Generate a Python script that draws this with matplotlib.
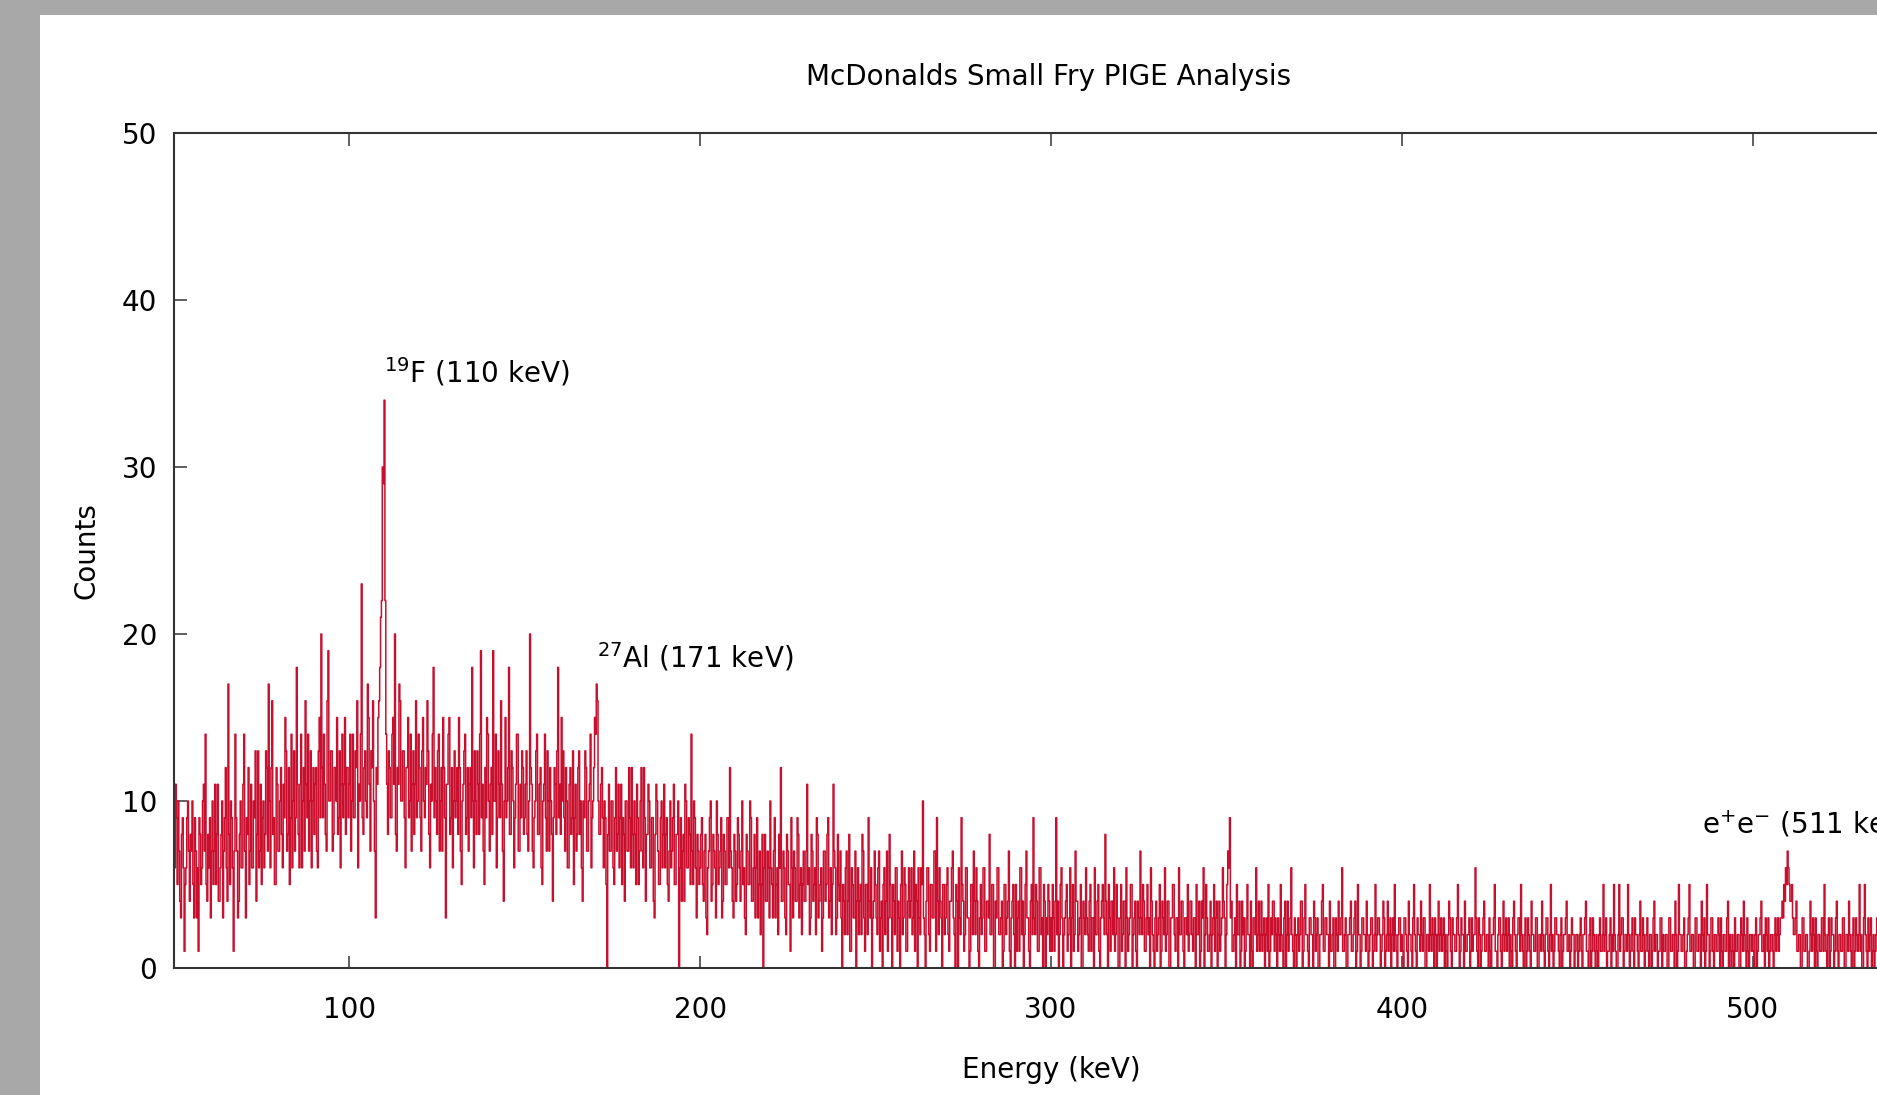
"""
PIGE gamma spectrum of a small fry sample, gnuplot-like look
"""
import numpy as np
import matplotlib
matplotlib.use("Agg")
from matplotlib import pyplot as plt
from matplotlib.patches import Rectangle

# counts per 0.25 keV channel,
# one string per 50 keV, one line per 10 keV
counts_050 = """
8 6 11 9 5 10 7 4 3 8 9 6 1 5 6 9 10 7 4 8 7 10 5 3 9 7 3 6 1 9 8 5 6 10 11 7 14 5 4 8
6 9 3 7 10 5 7 11 5 8 11 4 4 6 8 10 3 7 9 12 6 4 17 8 5 10 9 6 1 7 14 9 7 3 4 8 10 6 6 11
14 7 3 9 8 12 5 7 11 6 6 10 9 13 4 8 13 6 7 11 5 9 10 6 8 13 12 7 17 10 6 12 16 8 9 5 5 12 11 7
7 10 12 8 6 11 9 15 13 7 8 12 5 9 14 6 10 13 7 9 18 11 8 6 11 14 6 10 12 7 16 11 9 14 7 10 13 6 10 12
8 11 12 7 6 13 15 9 20 12 9 14 11 8 7 16 19 10 10 13 13 7 8 12 12 10 15 8 9 13 6 11 14 9 11 15 8 12 12 9
"""
counts_100 = """
11 14 7 10 14 9 9 13 12 16 6 11 10 14 23 9 8 12 13 10 9 17 15 11 7 13 12 16 10 7 3 12 11 15 16 18 21 22 30 29
34 22 14 11 8 13 12 9 9 14 15 11 20 8 7 12 11 17 16 10 10 13 13 9 6 12 12 15 9 10 14 7 11 13 8 11 16 9 10 14
12 9 7 13 15 10 9 12 11 16 13 8 6 11 10 14 18 9 12 10 8 13 14 7 10 12 7 15 12 9 3 11 11 14 15 8 9 12 6 10
13 9 10 12 8 15 12 7 5 10 11 13 14 8 9 12 7 11 12 9 18 10 6 13 10 8 13 11 8 14 19 9 11 7 5 12 9 15 14 10
7 11 12 8 19 10 10 14 6 9 13 11 9 16 11 7 4 10 15 9 10 12 18 8 8 13 12 10 6 9 11 14 14 7 7 11 9 13 12 8
"""
counts_150 = """
9 11 13 8 7 10 20 12 11 7 6 9 10 13 14 8 8 11 12 6 5 10 11 14 9 7 13 10 7 12 10 8 4 9 12 11 8 13 18 9
11 8 15 10 13 9 7 12 10 6 6 11 12 8 9 13 5 9 11 7 8 12 13 8 10 6 4 10 9 13 12 7 7 10 11 14 6 9 10 12
15 14 17 16 10 8 8 11 12 9 6 10 9 5 0 8 11 7 7 10 10 6 5 9 12 7 8 11 6 9 11 5 9 8 4 10 10 7 7 12
9 6 12 8 6 10 8 5 11 9 5 7 10 12 7 6 12 9 4 8 8 11 10 6 6 9 9 4 3 8 11 10 7 5 5 9 10 6 8 11
6 8 9 5 4 7 10 6 7 9 11 5 5 8 8 10 0 6 9 4 7 8 4 11 10 6 6 9 8 5 14 7 5 10 9 6 3 8 7 5
"""
counts_200 = """
6 8 9 5 4 7 8 3 2 6 7 9 10 4 5 8 7 6 3 10 8 5 6 7 9 3 4 8 7 5 5 9 9 6 12 7 6 4 3 8
7 4 5 9 8 6 4 7 10 5 6 3 2 8 7 5 5 10 9 4 4 6 8 3 6 9 3 5 7 2 5 8 0 6 8 4 4 7 6 3
10 6 5 3 7 9 3 5 6 2 8 6 12 4 4 7 6 3 2 8 7 5 5 1 9 6 3 7 6 4 4 9 8 3 5 6 2 5 7 4
4 7 11 5 6 2 3 8 7 4 5 6 2 9 8 3 4 5 6 1 3 7 7 4 5 8 9 3 4 6 2 5 11 7 6 2 3 8 5 4
7 3 0 5 4 2 6 7 2 4 8 1 1 6 5 3 3 7 0 4 6 2 4 5 2 8 7 3 1 5 5 2 9 4 3 6 0 3 4 7
"""
counts_250 = """
5 3 2 6 7 1 3 4 0 5 6 2 4 7 1 3 8 5 3 0 5 4 2 6 6 1 4 3 0 5 7 2 3 6 5 1 1 4 6 3
4 6 2 3 7 1 5 4 0 6 3 2 6 5 10 3 2 0 4 6 6 2 1 5 5 3 3 7 7 1 9 4 2 6 4 3 0 5 5 2
3 5 6 2 1 4 4 6 7 3 2 0 5 4 0 6 3 2 9 5 4 1 2 6 6 3 3 0 1 5 5 2 7 4 2 6 4 1 0 3
5 2 3 6 6 1 1 4 4 3 8 2 2 5 5 0 0 4 3 6 6 2 2 3 4 0 1 5 5 2 3 4 7 1 0 3 4 5 2 0
5 1 3 4 1 6 6 2 4 0 2 5 7 3 3 1 0 4 5 2 9 3 2 5 4 1 1 6 6 2 3 0 5 4 0 3 2 5 4 1
"""
counts_300 = """
3 1 5 3 1 4 9 2 4 0 2 5 6 3 0 2 3 4 5 1 2 3 6 0 3 5 1 2 7 4 4 1 2 3 5 0 0 4 3 2
6 3 2 1 4 5 1 3 3 0 6 2 2 4 5 1 0 3 4 5 3 2 8 4 2 0 5 3 1 4 4 2 6 1 2 5 3 0 0 3
5 1 2 4 4 0 6 3 1 2 3 5 5 0 2 3 4 1 0 4 3 2 7 3 2 5 4 1 1 3 5 2 3 0 6 4 2 1 0 3
4 1 2 3 5 0 1 4 3 2 6 1 2 4 4 0 0 3 3 5 5 2 1 3 3 0 6 2 2 4 4 1 0 3 3 2 5 1 2 4
4 2 1 3 3 0 5 2 2 4 0 1 4 3 6 0 2 5 3 1 1 2 4 0 2 3 5 1 3 4 0 2 4 1 2 3 6 4 3 0
"""
counts_350 = """
2 5 7 6 9 3 4 1 1 2 3 0 5 2 2 4 0 1 4 2 3 0 1 3 5 2 2 0 4 1 0 3 3 2 6 1 2 4 1 2
4 1 2 3 0 2 3 1 5 0 1 3 2 4 4 1 3 2 0 3 2 1 5 2 1 0 3 4 0 2 4 1 2 3 6 2 1 0 3 2
0 2 3 1 2 4 4 0 1 3 5 2 2 1 0 3 3 2 2 0 4 3 1 2 3 0 0 2 2 4 5 1 1 3 3 2 2 0 4 1
1 2 3 0 0 3 2 1 4 2 2 3 6 1 1 2 3 0 0 2 2 3 4 1 1 2 3 4 0 1 5 2 2 0 1 3 3 2 2 1
4 2 0 1 2 3 3 0 1 2 5 1 2 3 3 2 0 1 2 4 3 0 1 2 4 1 2 3 0 2 3 1 5 2 1 0 2 3 3 1
"""
counts_400 = """
2 1 0 3 3 2 1 0 4 2 2 1 0 3 5 2 1 0 3 2 2 1 4 2 1 3 3 0 0 2 2 1 5 2 1 3 2 0 3 2
0 2 4 1 2 3 1 2 3 0 2 1 0 2 4 3 1 0 3 2 2 1 1 3 5 2 0 1 3 2 2 0 4 1 1 2 2 3 0 1
3 1 2 2 6 3 1 0 3 2 0 1 2 3 4 1 1 2 2 0 3 1 0 2 2 3 5 1 1 0 2 3 3 1 0 2 4 1 2 3
1 2 3 0 2 1 0 3 4 2 1 0 2 3 3 1 5 2 1 0 2 3 0 1 3 2 1 0 4 2 2 1 1 3 3 0 0 2 2 1
4 2 1 0 2 3 3 1 0 2 5 1 2 0 1 3 3 2 2 1 0 2 3 0 1 2 2 3 4 1 1 2 0 1 3 2 2 0 1 2
"""
counts_450 = """
2 0 1 2 3 1 0 2 2 3 4 1 1 0 2 3 0 1 3 2 1 0 2 1 0 2 3 1 1 2 5 1 2 3 0 1 1 2 3 0
2 1 5 2 1 0 0 2 5 1 2 3 3 0 1 2 2 1 5 2 0 1 2 3 1 0 3 2 2 1 0 2 4 1 1 3 2 0 1 2
3 1 0 2 2 0 1 3 4 1 2 2 0 1 1 3 3 0 2 1 1 2 2 0 0 3 3 1 1 2 2 0 4 2 0 1 5 2 2 1
1 2 3 0 0 1 2 3 5 1 1 2 2 0 0 3 3 1 1 2 2 0 4 2 1 3 0 1 5 2 2 0 1 3 3 1 0 2 2 1
1 3 2 0 3 1 0 2 2 1 1 3 4 0 2 1 0 2 1 0 3 1 1 2 2 0 0 3 2 1 4 2 1 0 3 1 0 2 2 1
"""
counts_500 = """
2 1 0 2 3 0 1 2 2 3 4 1 1 2 0 3 2 1 3 0 1 2 2 1 0 2 3 1 2 3 1 2 3 3 4 3 5 4 6 5
7 6 5 4 4 5 3 2 2 3 4 1 1 2 2 0 0 3 3 1 1 2 2 0 0 1 4 2 1 3 2 0 3 1 0 2 2 1 1 3
3 1 5 2 1 0 2 3 0 1 3 2 2 0 1 3 4 1 0 2 2 1 1 3 3 0 0 2 2 1 4 2 1 0 2 3 0 1 3 2
1 2 5 1 2 0 0 3 5 2 1 0 3 1 2 3 0 1 2 0 1 2 3 1 0 2 2 3 4 1 1 0 2 3 0 1 3 2 1 0
2 1 0 3 3 2 1 0 2 1 4 2 0 1 2 3 1 0 3 2 0 1 2 3 1 2 3 0 1 2 0 1 2 3 4 1 1 2 2 0
"""

segments = [counts_050, counts_100, counts_150, counts_200, counts_250,
            counts_300, counts_350, counts_400, counts_450, counts_500]

peak_labels = [r"$^{19}$F (110 keV)", r"$^{27}$Al (171 keV)",
               r"e$^{+}$e$^{-}$ (511 keV)"]
peak_label_x = [109.8, 170.6, 485.7]
peak_label_y = [35.7, 18.6, 8.6]


def load_counts():
    """
    Joins the channel strings into one counts array
    """
    counts = []
    for seg in segments:
        counts += [int(v) for v in seg.split()]
    counts = np.array(counts)
    energy = 50.0 + 0.25 * np.arange(len(counts))
    return energy, counts


def main():
    energy, counts = load_counts()
    plt.rcParams['font.family'] = ['DejaVu Sans']
    plt.rcParams['mathtext.fontset'] = 'dejavusans'
    fig = plt.figure(figsize=(18.77, 10.95), dpi=100, facecolor='#a8a8a8')
    # white page inside the grey frame
    page = Rectangle((40 / 1877, 0), 1, 1 - 15 / 1095,
                     transform=fig.transFigure, facecolor='white',
                     edgecolor='none', zorder=-10)
    fig.patches.append(page)
    ax = fig.add_axes([174 / 1877, 1 - 968 / 1095, 1754 / 1877, 835 / 1095])
    ax.set_facecolor('white')
    ax.plot(energy, counts, drawstyle='steps-mid', color='#c8102e',
            lw=1.1)
    ax.set_xlim(50, 550)
    ax.set_ylim(0, 50)
    ax.set_xticks([100, 200, 300, 400, 500])
    ax.set_yticks(range(0, 51, 10))
    ax.tick_params(direction='in', length=9, width=1.2, color='#444444',
                   labelsize=20, top=True, right=True)
    ax.tick_params(axis='x', pad=20)
    ax.tick_params(axis='y', pad=12)
    for sp in ax.spines.values():
        sp.set_linewidth(1.5)
        sp.set_color('#333333')
    fig.suptitle("McDonalds Small Fry PIGE Analysis", x=1049 / 1877,
                 y=1 - 77 / 1095, fontsize=20, va='center')
    ax.set_xlabel("Energy (keV)", fontsize=20, va='center')
    ax.xaxis.set_label_coords(0.5, -102 / 835)
    ax.set_ylabel("Counts", fontsize=20, va='center')
    ax.yaxis.set_label_coords(-87 / 1754, 0.5)
    for txt, x, y in zip(peak_labels, peak_label_x, peak_label_y):
        ax.text(x, y, txt, fontsize=20, ha='left', va='center')
    fig.savefig('out.png', dpi=100, facecolor=fig.get_facecolor())


if __name__ == '__main__':
    main()
